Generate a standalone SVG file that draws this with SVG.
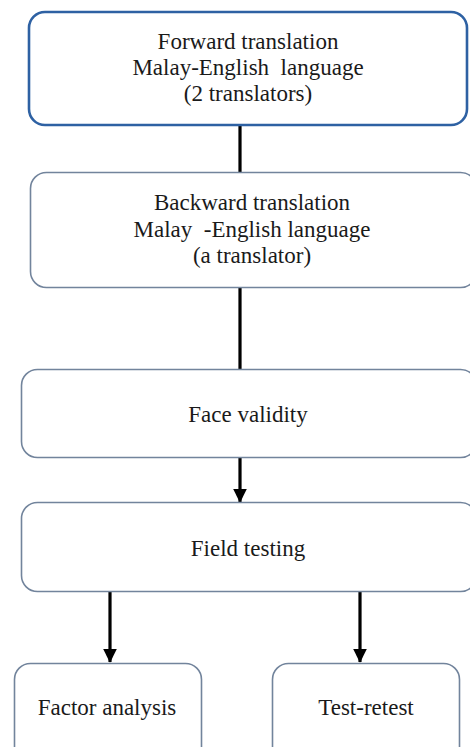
<svg xmlns="http://www.w3.org/2000/svg" width="470" height="747" viewBox="0 0 470 747">
<style>
.box{fill:#fff;stroke:#72849c;stroke-width:1.6}
.top{fill:#fff;stroke:#2e61a3;stroke-width:2.6}
text{font-family:"Liberation Serif","Times New Roman",serif;font-size:23px;fill:#1a1a1a;text-anchor:middle}
.ln{stroke:#000;stroke-width:3.2;fill:none}
</style>
<defs>
<marker id="ah" markerWidth="4.4" markerHeight="4.4" refX="4.2" refY="2.2" orient="auto" markerUnits="strokeWidth">
<path d="M0,0 L4.4,2.2 L0,4.4 Z" fill="#000"/>
</marker>
</defs>
<rect width="470" height="747" fill="#fff"/>
<g id="connectors">
<line class="ln" x1="240" y1="125" x2="240" y2="172"/>
<line class="ln" x1="240" y1="288" x2="240" y2="369"/>
<line class="ln" x1="240" y1="458" x2="240" y2="502" marker-end="url(#ah)"/>
<line class="ln" x1="110" y1="592" x2="110" y2="662" marker-end="url(#ah)"/>
<line class="ln" x1="360" y1="592" x2="360" y2="662" marker-end="url(#ah)"/>
</g>
<g id="forward">
<rect class="top" x="29" y="12" width="438" height="113" rx="16"/>
<text x="248" y="49">Forward translation</text>
<text x="248" y="75" xml:space="preserve">Malay-English  language</text>
<text x="248" y="101">(2 translators)</text>
</g>
<g id="backward">
<rect class="box" x="30.5" y="172.5" width="446" height="115" rx="16"/>
<text x="252" y="210">Backward translation</text>
<text x="252" y="237" xml:space="preserve">Malay  -English language</text>
<text x="252" y="263">(a translator)</text>
</g>
<g id="face">
<rect class="box" x="21.5" y="369.5" width="455" height="88" rx="16"/>
<text x="248" y="422">Face validity</text>
</g>
<g id="field">
<rect class="box" x="21.5" y="502.5" width="455" height="89" rx="16"/>
<text x="248" y="556">Field testing</text>
</g>
<g id="factor">
<rect class="box" x="14.5" y="663.5" width="187" height="100" rx="16"/>
<text x="107" y="715">Factor analysis</text>
</g>
<g id="retest">
<rect class="box" x="272.5" y="663.5" width="187" height="100" rx="16"/>
<text x="366" y="715">Test-retest</text>
</g>
</svg>
